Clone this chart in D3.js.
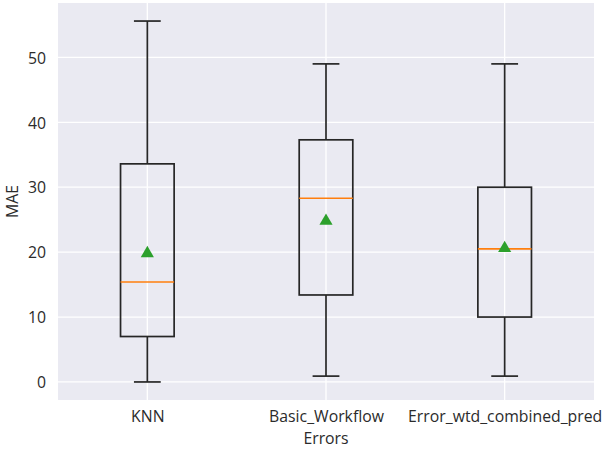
<!DOCTYPE html>
<html><head><meta charset="utf-8">
<script src="https://cdn.jsdelivr.net/npm/d3@7"></script>
<style>body{margin:0;background:#fff}svg{display:block}</style>
</head><body>
<svg id="c" width="602" height="451"></svg>
<script>
const categories = ["KNN", "Basic_Workflow", "Error_wtd_combined_pred"];
const whiskerLow = [0.0, 0.9, 0.9];
const q1 = [7.0, 13.4, 10.0];
const median = [15.4, 28.3, 20.5];
const q3 = [33.6, 37.3, 30.0];
const whiskerHigh = [55.6, 49.0, 49.0];
const mean = [19.8, 24.8, 20.6];
const yTicks = [0, 10, 20, 30, 40, 50];

const svg = d3.select("#c");
const L = 58, R = 594, T = 3, B = 400;
const x = d3.scaleLinear().domain([0.5, 3.5]).range([L, R]);
const y = d3.scaleLinear().domain([-2.78, 58.38]).range([B, T]);
const font = "'Open Sans', sans-serif";
const fs = 15.8;
const txt = "#2b2b2b";

svg.append("rect").attr("x", L).attr("y", T).attr("width", R - L).attr("height", B - T).attr("fill", "#EAEAF2");

const g = svg.append("g");
g.selectAll(".hg").data(yTicks).join("line")
  .attr("x1", L).attr("x2", R).attr("y1", d => y(d)).attr("y2", d => y(d))
  .attr("stroke", "#fff").attr("stroke-width", 1.3);
g.selectAll(".vg").data(categories).join("line")
  .attr("x1", (d, i) => x(i + 1)).attr("x2", (d, i) => x(i + 1)).attr("y1", T).attr("y2", B)
  .attr("stroke", "#fff").attr("stroke-width", 1.3);

// axes (text only)
const yAxis = d3.axisLeft(y).tickValues(yTicks).tickSize(0).tickPadding(0);
const ya = svg.append("g").attr("transform", `translate(${L - 12},0)`).call(yAxis);
ya.select(".domain").remove();
ya.selectAll("text").attr("font-family", font).attr("font-size", fs).attr("fill", txt).attr("dy", "0.36em");

const xAxis = d3.axisBottom(x).tickValues([1, 2, 3]).tickFormat((d) => categories[d - 1]).tickSize(0).tickPadding(0);
const xa = svg.append("g").attr("transform", `translate(0,${B + 22})`).call(xAxis);
xa.select(".domain").remove();
xa.selectAll("text").attr("font-family", font).attr("font-size", fs).attr("fill", txt).attr("dy", "0");

svg.append("text").attr("x", x(2)).attr("y", 444).attr("text-anchor", "middle")
  .attr("font-family", font).attr("font-size", fs).attr("fill", txt).text("Errors");
svg.append("text").attr("transform", `translate(18,${(T + B) / 2}) rotate(-90)`).attr("text-anchor", "middle")
  .attr("font-family", font).attr("font-size", fs).attr("fill", txt).text("MAE");

const bw = x(1.15) - x(0.85);
const cw = x(1.075) - x(0.925);
const boxes = svg.append("g").selectAll("g").data(categories).join("g");
const stroke = "#262626", sw = 1.7;
boxes.append("line").attr("x1", (d, i) => x(i + 1)).attr("x2", (d, i) => x(i + 1))
  .attr("y1", (d, i) => y(whiskerLow[i])).attr("y2", (d, i) => y(q1[i])).attr("stroke", stroke).attr("stroke-width", sw);
boxes.append("line").attr("x1", (d, i) => x(i + 1)).attr("x2", (d, i) => x(i + 1))
  .attr("y1", (d, i) => y(q3[i])).attr("y2", (d, i) => y(whiskerHigh[i])).attr("stroke", stroke).attr("stroke-width", sw);
boxes.append("line").attr("x1", (d, i) => x(i + 1) - cw / 2).attr("x2", (d, i) => x(i + 1) + cw / 2)
  .attr("y1", (d, i) => y(whiskerLow[i])).attr("y2", (d, i) => y(whiskerLow[i])).attr("stroke", stroke).attr("stroke-width", sw);
boxes.append("line").attr("x1", (d, i) => x(i + 1) - cw / 2).attr("x2", (d, i) => x(i + 1) + cw / 2)
  .attr("y1", (d, i) => y(whiskerHigh[i])).attr("y2", (d, i) => y(whiskerHigh[i])).attr("stroke", stroke).attr("stroke-width", sw);
boxes.append("rect").attr("x", (d, i) => x(i + 1) - bw / 2).attr("width", bw)
  .attr("y", (d, i) => y(q3[i])).attr("height", (d, i) => y(q1[i]) - y(q3[i]))
  .attr("fill", "none").attr("stroke", stroke).attr("stroke-width", sw);
boxes.append("line").attr("x1", (d, i) => x(i + 1) - bw / 2).attr("x2", (d, i) => x(i + 1) + bw / 2)
  .attr("y1", (d, i) => y(median[i])).attr("y2", (d, i) => y(median[i])).attr("stroke", "#ff7f0e").attr("stroke-width", 1.7);
const tri = d3.symbol().type(d3.symbolTriangle).size(75);
boxes.append("path").attr("d", tri)
  .attr("transform", (d, i) => `translate(${x(i + 1)},${y(mean[i])})`).attr("fill", "#2ca02c");
</script>
</body></html>
